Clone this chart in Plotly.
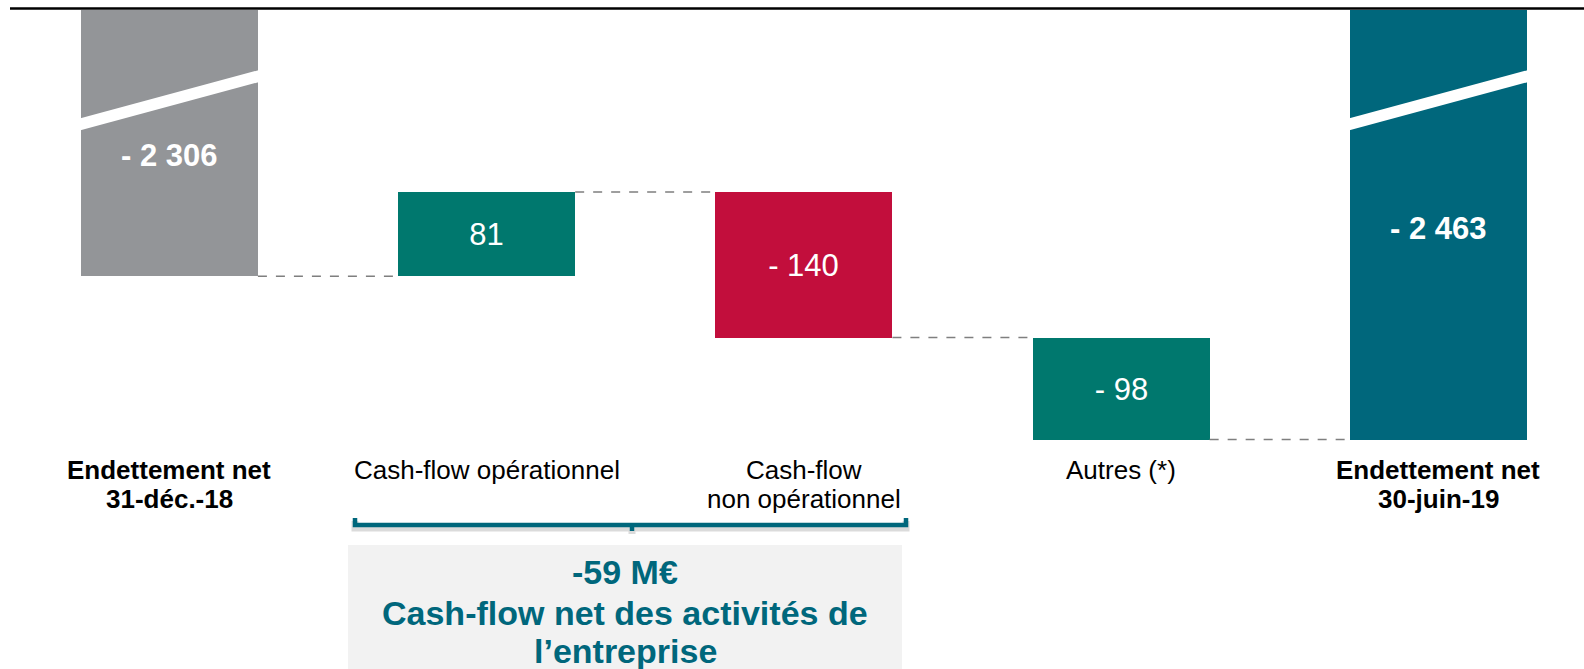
import plotly.graph_objects as go

# ---------------- data ----------------
categories = ["Endettement net\n31-déc.-18", "Cash-flow opérationnel",
              "Cash-flow\nnon opérationnel", "Autres (*)",
              "Endettement net\n30-juin-19"]
measures = ["absolute", "relative", "relative", "relative", "total"]
values = [-2306, 81, -140, -98, -2463]
bar_colors = ["#939598", "#00786E", "#C20E3C", "#00786E", "#00677C"]
bold_labels = [True, False, False, False, True]
summary_items = [1, 2]  # bars grouped by the bracket
summary_caption = "Cash-flow net des activités de\nl’entreprise"

# ---------------- layout constants ----------------
W, H = 1584, 669
TOP = 10
FONT = "Liberation Sans, Arial, sans-serif"
TEAL = "#00677C"
XR = (-0.534, 4.459)
PX_PER_UNIT = 1.04
Y_TOP = -2050
YR = (Y_TOP - (H - TOP) / PX_PER_UNIT, Y_TOP)
BAR_W = 0.558


def fmt(v):
    s = f"{abs(v):,}".replace(",", " ")
    return ("- " if v < 0 else "") + s


def px_x(p):
    return XR[0] + p / W * (XR[1] - XR[0])


def px_y(p):  # pixel -> data y
    return Y_TOP - (p - TOP) / PX_PER_UNIT


def paper_y(p):
    return (H - p) / (H - TOP)


# ---------------- waterfall geometry from data ----------------
bases, heights, levels = [], [], []
level = 0
for m, v in zip(measures, values):
    if m in ("absolute", "total"):
        bases.append(0)
        heights.append(v)
        level = v
    else:
        bases.append(level)
        heights.append(v)
        level += v
    levels.append(level)

xs = list(range(len(categories)))
inner_text = [fmt(v) if m == "relative" else "" for m, v in zip(measures, values)]

fig = go.Figure()
fig.add_trace(go.Bar(
    x=xs, y=heights, base=bases, width=BAR_W,
    marker=dict(color=bar_colors, line=dict(width=0)),
    text=inner_text, textposition="inside", insidetextanchor="middle",
    textangle=0, textfont=dict(family=FONT, size=31, color="white"),
    hoverinfo="skip", showlegend=False,
))

shapes = []
annotations = []

# connectors
for i in range(len(xs) - 1):
    shapes.append(dict(type="line", xref="x", yref="y",
                       x0=xs[i] + BAR_W / 2, x1=xs[i + 1] - BAR_W / 2,
                       y0=levels[i], y1=levels[i],
                       line=dict(color="#7F7F7F", width=1.5, dash="dash")))

# axis-break bands and big labels for the absolute bars
big_label_px = {0: 155, 4: 228}
for i, m in enumerate(measures):
    if m in ("absolute", "total"):
        xl, xr = xs[i] - BAR_W / 2 - 0.01, xs[i] + BAR_W / 2 + 0.01
        shapes.append(dict(type="path", xref="x", yref="y",
                           path=f"M {xl},{px_y(131)} L {xr},{px_y(81.5)} "
                                f"L {xr},{px_y(69.5)} L {xl},{px_y(119)} Z",
                           fillcolor="white", line=dict(width=0), layer="above"))
        annotations.append(dict(x=xs[i], y=px_y(big_label_px[i]), xref="x", yref="y",
                                text=f"<b>{fmt(values[i])}</b>", showarrow=False,
                                font=dict(family=FONT, size=31, color="white"),
                                xanchor="center", yanchor="middle"))

# category labels (one annotation per line for tight line spacing)
label_line_px = [470, 499]
for i, (c, b) in enumerate(zip(categories, bold_labels)):
    for k, line in enumerate(c.split("\n")):
        annotations.append(dict(x=xs[i], y=paper_y(label_line_px[k]), xref="x", yref="paper",
                                text=f"<b>{line}</b>" if b else line, showarrow=False,
                                yanchor="middle", xanchor="center",
                                font=dict(family=FONT, size=26, color="black")))

# top black rule
shapes.append(dict(type="line", xref="paper", yref="paper",
                   x0=10 / W, x1=1, y0=paper_y(8.5), y1=paper_y(8.5),
                   line=dict(color="black", width=2.5)))

# grey summary box
shapes.append(dict(type="rect", xref="x", yref="paper",
                   x0=px_x(348), x1=px_x(902), y0=0, y1=paper_y(545),
                   fillcolor="#F2F2F2", line=dict(width=0), layer="below"))


# bracket (shadow then line)
def bracket_path(dy):
    xa, xb, xc = px_x(355), px_x(906), px_x(632)
    return (f"M {xa},{paper_y(518 + dy)} L {xa},{paper_y(525 + dy)} "
            f"L {xb},{paper_y(525 + dy)} L {xb},{paper_y(518 + dy)} "
            f"M {xc},{paper_y(525 + dy)} L {xc},{paper_y(531 + dy)}")


shapes.append(dict(type="path", xref="x", yref="paper", path=bracket_path(3),
                   line=dict(color="rgba(0,0,0,0.14)", width=7)))
shapes.append(dict(type="path", xref="x", yref="paper", path=bracket_path(0),
                   line=dict(color=TEAL, width=4.5)))

summary_value = sum(values[i] for i in summary_items)
summary_lines = [f"{summary_value} M€"] + summary_caption.split("\n")
summary_line_px = [572, 613, 651]
for line, p in zip(summary_lines, summary_line_px):
    annotations.append(dict(x=px_x(625), y=paper_y(p), xref="x", yref="paper",
                            text=f"<b>{line}</b>", showarrow=False,
                            xanchor="center", yanchor="middle",
                            font=dict(family=FONT, size=34, color=TEAL)))

fig.update_layout(
    width=W, height=H,
    margin=dict(l=0, r=0, t=TOP, b=0),
    paper_bgcolor="white", plot_bgcolor="white",
    xaxis=dict(range=list(XR), visible=False, fixedrange=True),
    yaxis=dict(range=list(YR), visible=False, fixedrange=True),
    shapes=shapes, annotations=annotations,
    showlegend=False, bargap=0,
)

fig.write_html("out.html", config={"displayModeBar": False},
               post_script="document.body.style.margin='0px';")
